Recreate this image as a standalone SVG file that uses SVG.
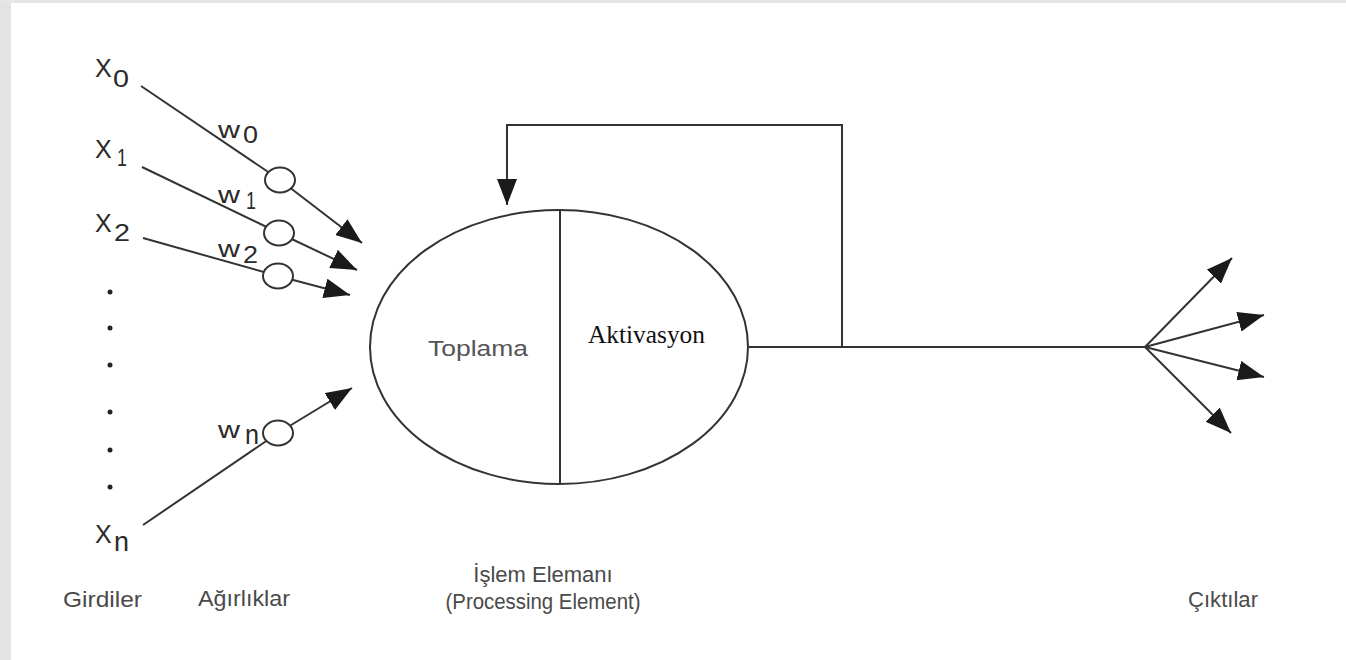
<svg xmlns="http://www.w3.org/2000/svg" width="1346" height="660" viewBox="0 0 1346 660">
<defs>
<marker id="ah" markerUnits="userSpaceOnUse" markerWidth="28" markerHeight="22" refX="26" refY="10" orient="auto">
<path d="M0,0 L26,10 L0,20 Z" fill="#1a1a1a"/>
</marker>
<style>
.ln{stroke:#333;stroke-width:2;fill:none}
.arr{stroke:#333;stroke-width:2;fill:none;marker-end:url(#ah)}
.wc{stroke:#333;stroke-width:2;fill:#fff}
.sym{font-family:"Liberation Sans",Arial,sans-serif;fill:#2a2a2a}
.lbl{font-family:"Liberation Sans",Arial,sans-serif;fill:#4a4a4a;font-size:22px}
.dot{fill:#222}
</style>
</defs>
<rect x="0" y="0" width="1346" height="660" fill="#fff"/>
<rect x="0" y="0" width="11" height="660" fill="#e2e4e3"/>
<rect x="0" y="0" width="1346" height="3" fill="#e6e6e6"/>

<g id="connectors">
<line class="ln" x1="141" y1="86" x2="280" y2="180"/>
<line class="arr" x1="280" y1="180" x2="362" y2="243"/>
<line class="ln" x1="142" y1="167" x2="279" y2="233"/>
<line class="arr" x1="279" y1="233" x2="357" y2="270"/>
<line class="ln" x1="143" y1="238" x2="278" y2="276"/>
<line class="arr" x1="278" y1="276" x2="350" y2="295"/>
<line class="ln" x1="143" y1="525" x2="278" y2="433"/>
<line class="arr" x1="278" y1="433" x2="352" y2="388"/>
<line class="ln" x1="748" y1="347" x2="1145" y2="347"/>
<polyline class="arr" points="842,347 842,125 507,125 507,205"/>
<line class="arr" x1="1145" y1="347" x2="1232" y2="258"/>
<line class="arr" x1="1145" y1="347" x2="1264" y2="315"/>
<line class="arr" x1="1145" y1="347" x2="1264" y2="377"/>
<line class="arr" x1="1145" y1="347" x2="1231" y2="433"/>
</g>

<g id="weight0"><ellipse class="wc" cx="280" cy="180" rx="15" ry="12.5"/></g>
<g id="weight1"><ellipse class="wc" cx="279" cy="233" rx="15" ry="12.5"/></g>
<g id="weight2"><ellipse class="wc" cx="278" cy="276" rx="15" ry="12.5"/></g>
<g id="weightn"><ellipse class="wc" cx="278" cy="433" rx="15" ry="12.5"/></g>

<g id="processing-element">
<ellipse cx="559" cy="347" rx="189" ry="137" stroke="#333" stroke-width="2" fill="#fff"/>
<line class="ln" x1="560" y1="210" x2="560" y2="484"/>
<text x="428" y="356" font-family="Liberation Sans, Arial, sans-serif" font-size="22" fill="#555" textLength="100" lengthAdjust="spacingAndGlyphs">Toplama</text>
<text x="588" y="343" font-family="Liberation Serif, Times New Roman, serif" font-size="25" fill="#111" textLength="117" lengthAdjust="spacingAndGlyphs">Aktivasyon</text>
</g>

<g id="inputs">
<text class="sym" x="95" y="77" font-size="25">X</text>
<text class="sym" x="113" y="87" font-size="24" textLength="16" lengthAdjust="spacingAndGlyphs">0</text>
<text class="sym" x="95" y="158" font-size="25">X</text>
<text class="sym" x="117" y="166" font-size="24" textLength="10" lengthAdjust="spacingAndGlyphs">1</text>
<text class="sym" x="95" y="232" font-size="25">X</text>
<text class="sym" x="114" y="241" font-size="24" textLength="16" lengthAdjust="spacingAndGlyphs">2</text>
<text class="sym" x="95" y="543" font-size="25">X</text>
<text class="sym" x="114" y="551" font-size="28" textLength="15" lengthAdjust="spacingAndGlyphs">n</text>
<circle class="dot" cx="110" cy="292" r="2.5"/>
<circle class="dot" cx="110" cy="328" r="2.5"/>
<circle class="dot" cx="110" cy="365" r="2.5"/>
<circle class="dot" cx="110" cy="412" r="2.5"/>
<circle class="dot" cx="110" cy="450" r="2.5"/>
<circle class="dot" cx="110" cy="487" r="2.5"/>
</g>

<g id="weights">
<text class="sym" x="218" y="138" font-size="24" textLength="22" lengthAdjust="spacingAndGlyphs">w</text>
<text class="sym" x="243" y="143" font-size="24" textLength="15" lengthAdjust="spacingAndGlyphs">0</text>
<text class="sym" x="218" y="203" font-size="24" textLength="22" lengthAdjust="spacingAndGlyphs">w</text>
<text class="sym" x="246" y="209" font-size="24" textLength="10" lengthAdjust="spacingAndGlyphs">1</text>
<text class="sym" x="218" y="257" font-size="24" textLength="22" lengthAdjust="spacingAndGlyphs">w</text>
<text class="sym" x="243" y="263" font-size="24" textLength="15" lengthAdjust="spacingAndGlyphs">2</text>
<text class="sym" x="218" y="438" font-size="24" textLength="22" lengthAdjust="spacingAndGlyphs">w</text>
<text class="sym" x="245" y="444" font-size="28" textLength="14" lengthAdjust="spacingAndGlyphs">n</text>
</g>

<g id="labels">
<text class="lbl" x="63" y="607" textLength="79" lengthAdjust="spacingAndGlyphs">Girdiler</text>
<text class="lbl" x="198" y="606" textLength="92" lengthAdjust="spacingAndGlyphs">Ağırlıklar</text>
<text class="lbl" x="543" y="582" text-anchor="middle">İşlem Elemanı</text>
<text class="lbl" x="543" y="609" text-anchor="middle" textLength="195" lengthAdjust="spacingAndGlyphs">(Processing Element)</text>
<text class="lbl" x="1188" y="607" textLength="70" lengthAdjust="spacingAndGlyphs">Çıktılar</text>
</g>
</svg>
